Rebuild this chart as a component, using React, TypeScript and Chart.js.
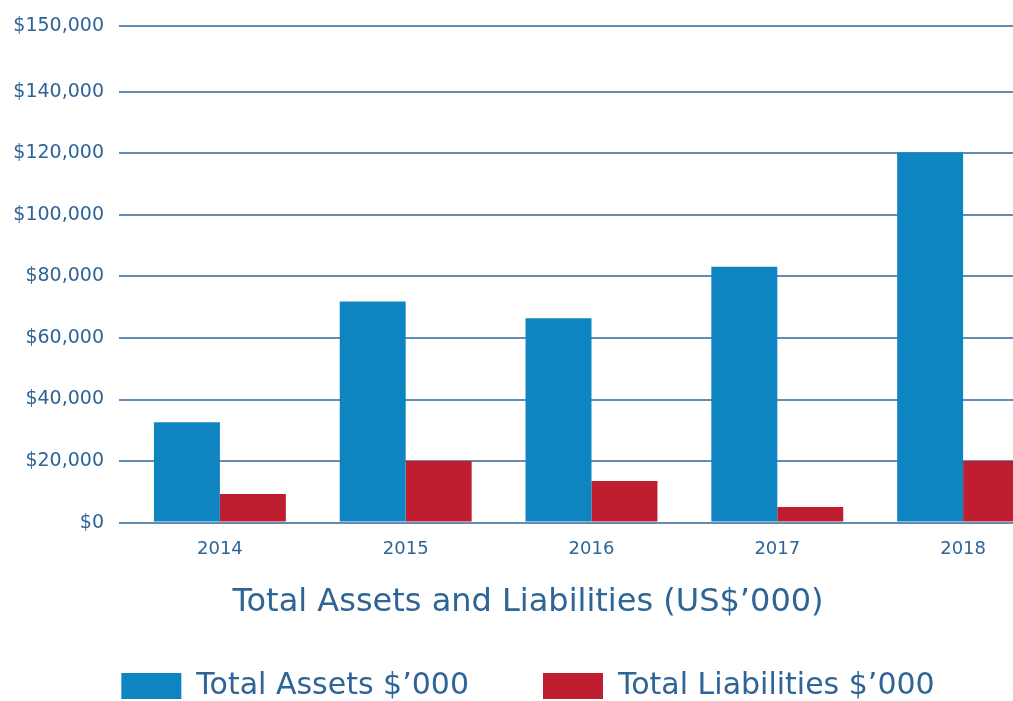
import React, { useEffect, useRef } from "react";
import { Chart, registerables } from "chart.js";

Chart.register(...registerables);

const years = ["2014", "2015", "2016", "2017", "2018"];
const totalAssets = [32600, 71900, 66400, 83200, 120300];
const totalLiabilities = [9300, 20000, 13500, 5100, 20000];
const yTickValues = [0, 20000, 40000, 60000, 80000, 100000, 120000, 140000, 161300];
const yTickLabels = ["$0", "$20,000", "$40,000", "$60,000", "$80,000", "$100,000", "$120,000", "$140,000", "$150,000"];
const seriesLabels = ["Total Assets $’000", "Total Liabilities $’000"];
const chartTitle = "Total Assets and Liabilities (US$’000)";

const TEXT = "#2e6496";
const GRID = "#658cb2";
const BLUE = "#0e84c0";
const RED = "#be1e2f";
const FONT = "'DejaVu Sans', sans-serif";

export default function App() {
  const ref = useRef<HTMLCanvasElement | null>(null);
  useEffect(() => {
    document.body.style.margin = "0";
    if (!ref.current) return;
    const chart = new Chart(ref.current, {
      type: "bar",
      data: {
        labels: years,
        datasets: [
          { label: seriesLabels[0], data: totalAssets, backgroundColor: BLUE, borderWidth: 0 },
          { label: seriesLabels[1], data: totalLiabilities, backgroundColor: RED, borderWidth: 0 },
        ],
      },
      options: {
        responsive: false,
        animation: false,
        datasets: { bar: { categoryPercentage: 0.71, barPercentage: 1 } },
        layout: { padding: { top: 15, right: 0, left: 0, bottom: 0 } },
        plugins: {
          tooltip: { enabled: false },
          title: {
            display: true,
            position: "bottom",
            weight: 500,
            text: chartTitle,
            color: TEXT,
            font: { family: FONT, size: 32, weight: "normal" },
            padding: { top: 23, bottom: -25 },
          },
          legend: {
            position: "bottom",
            labels: {
              boxWidth: 60,
              boxHeight: 26,
              color: TEXT,
              font: { family: FONT, size: 30 },
              padding: 74,
            },
          },
        },
        scales: {
          x: {
            grid: { display: false, drawTicks: false },
            border: { display: false },
            ticks: { color: TEXT, font: { family: FONT, size: 18 }, padding: 16 },
            afterFit: (s: any) => {
              s.height = 38;
            },
          },
          y: {
            min: 0,
            max: yTickValues[yTickValues.length - 1],
            afterBuildTicks: (s: any) => {
              s.ticks = yTickValues.map((v) => ({ value: v }));
            },
            afterFit: (s: any) => {
              s.width = 127;
            },
            grid: { color: GRID, lineWidth: 2, tickLength: 8, drawTicks: true },
            border: { display: false },
            ticks: {
              color: TEXT,
              font: { family: FONT, size: 19 },
              padding: 15,
              callback: (_v: any, i: number) => yTickLabels[i],
            },
          },
        },
      },
    });
    return () => chart.destroy();
  }, []);
  return (
    <div style={{ position: "absolute", left: 0, top: 0, width: 1013, height: 701, overflow: "hidden" }}>
      <canvas ref={ref} width={1056} height={711} style={{ display: "block" }} />
    </div>
  );
}
